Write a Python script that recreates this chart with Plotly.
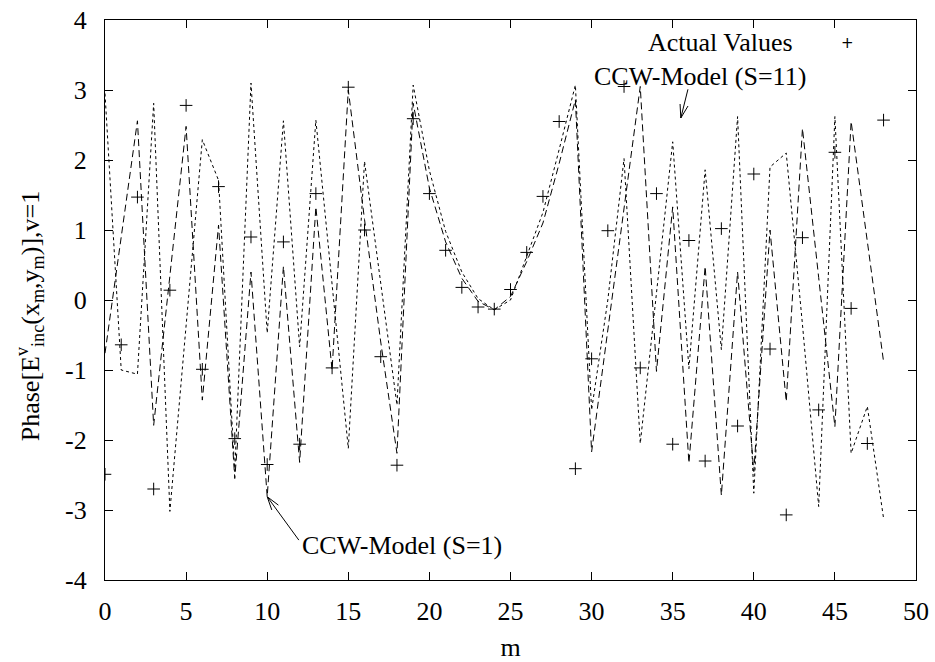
import math
import plotly.graph_objects as go

# ---- data ----
m_index = list(range(49))

actual_values = [-2.49, -0.64, 1.47, -2.70, 0.14, 2.78, -0.99, 1.62, -1.98, 0.90,
                 -2.35, 0.83, -2.06, 1.52, -0.97, 3.04, 1.00, -0.81, -2.36, 2.59,
                 1.52, 0.71, 0.18, -0.10, -0.13, 0.15, 0.68, 1.48, 2.55, -2.41,
                 -0.84, 0.99, 3.05, -0.97, 1.52, -2.06, 0.85, -2.30, 1.02, -1.80,
                 1.80, -0.70, -3.07, 0.89, -1.57, 2.11, -0.12, -2.05, 2.57]

model_s1 = [-0.76, 0.90, 2.56, -1.79, 0.30, 2.48, -1.43, 1.07, -2.55, 0.40,
            -2.81, 0.48, -2.32, 1.33, -1.00, 3.00, 1.15, -0.60, -2.19, 2.81,
            1.60, 0.83, 0.31, -0.02, -0.14, 0.05, 0.55, 1.10, 1.95, 2.86,
            -2.17, -0.45, 1.25, 3.05, -1.02, 1.33, -2.33, 0.48, -2.79, 0.40,
            -2.45, 1.00, -1.45, 2.45, 0.32, -1.81, 2.55, 0.83, -0.88]

model_s11 = [2.95, -1.00, -1.06, 2.81, -3.02, -0.36, 2.29, 1.71, -2.45, 3.10,
             -0.47, 2.56, -0.67, 2.57, 0.25, -2.12, 1.98, 0.24, -1.50, 3.07,
             1.85, 0.98, 0.40, 0.02, -0.14, 0.00, 0.62, 1.25, 2.15, 3.07,
             -1.57, 0.00, 2.02, -2.05, 0.10, 2.26, -0.98, 1.86, -0.71, 2.62,
             -2.76, 1.90, 2.10, -0.35, -2.95, 2.62, -2.19, -1.52, -3.12]

x_ticks = [0, 5, 10, 15, 20, 25, 30, 35, 40, 45, 50]
x_ticktext = ["0", "5", "10", "15", "20", "25", "30", "35", "40", "45", "50"]
y_ticks = [-4, -3, -2, -1, 0, 1, 2, 3, 4]
y_ticktext = ["-4", "-3", "-2", "-1", "0", "1", "2", "3", "4"]

FONT = "Liberation Serif, Times New Roman, serif"
TXT = dict(family=FONT, size=26, color="black")

W, H = 935, 662
ML, MR, MT, MB = 105, 19, 20, 82
X_RANGE = [0, 50]
Y_RANGE = [-4, 4]
PX_X = (W - ML - MR) / (X_RANGE[1] - X_RANGE[0])
PX_Y = (H - MT - MB) / (Y_RANGE[1] - Y_RANGE[0])

fig = go.Figure()

fig.add_trace(go.Scatter(
    x=m_index, y=actual_values, mode="markers", name="Actual Values",
    marker=dict(symbol="cross-thin", size=9, color="black",
                line=dict(width=1, color="black")),
))
fig.add_trace(go.Scatter(
    x=m_index, y=model_s1, mode="lines", name="CCW-Model (S=1)",
    line=dict(color="black", width=1, dash="7px,4px"),
))
fig.add_trace(go.Scatter(
    x=m_index, y=model_s11, mode="lines", name="CCW-Model (S=11)",
    line=dict(color="black", width=1, dash="3px,3px"),
))

axis_common = dict(
    showline=True, linecolor="black", linewidth=1.2, mirror="ticks",
    ticks="inside", ticklen=8, tickcolor="black", tickwidth=1,
    showgrid=False, zeroline=False, automargin=False,
    tickfont=TXT,
)

fig.update_xaxes(range=X_RANGE, tickvals=x_ticks, ticktext=x_ticktext,
                 ticklabelstandoff=8,
                 title=dict(text="m", standoff=12, font=TXT),
                 **axis_common)
fig.update_yaxes(range=Y_RANGE, tickvals=y_ticks, ticktext=y_ticktext,
                 ticklabelstandoff=12, **axis_common)


def open_arrow(x0, y0, x1, y1, head=14, spread=17):
    """Line from tail (x0,y0) to head (x1,y1) with an open V arrowhead."""
    shapes = [dict(type="line", xref="x", yref="y", x0=x0, y0=y0, x1=x1, y1=y1,
                   line=dict(color="black", width=1))]
    dx = (x0 - x1) * PX_X
    dy = (y0 - y1) * PX_Y
    ang = math.atan2(dy, dx)
    for s in (-1, 1):
        a = ang + s * math.radians(spread)
        hx = x1 + head * math.cos(a) / PX_X
        hy = y1 + head * math.sin(a) / PX_Y
        shapes.append(dict(type="line", xref="x", yref="y", x0=x1, y0=y1,
                           x1=hx, y1=hy, line=dict(color="black", width=1)))
    return shapes


shapes = []
shapes += open_arrow(35.94, 3.01, 35.5, 2.6)
shapes += open_arrow(11.95, -3.43, 10.0, -2.81)

annots = [
    # y-axis title
    dict(xref="paper", yref="paper", x=-0.093, y=0.472, textangle=-90,
         text="Phase[E<sup>v</sup><sub>inc</sub>(x<sub>m</sub>,y<sub>m</sub>)],v=1",
         showarrow=False, xanchor="center", yanchor="middle", font=TXT),
    # legend (gnuplot style: text then key)
    dict(xref="paper", yref="paper", x=0.851, y=0.959, text="Actual Values",
         showarrow=False, xanchor="right", yanchor="middle", font=TXT),
    dict(xref="paper", yref="paper", x=0.916, y=0.959, text="+",
         showarrow=False, xanchor="center", yanchor="middle",
         font=dict(family="DejaVu Sans", size=15, color="black")),
    # model labels
    dict(x=30.0, y=3.19, xref="x", yref="y", text="CCW-Model (S=11)",
         showarrow=False, xanchor="left", yanchor="middle", font=TXT),
    dict(x=12.05, y=-3.5, xref="x", yref="y", text="CCW-Model (S=1)",
         showarrow=False, xanchor="left", yanchor="middle", font=TXT),
]

fig.update_layout(
    width=W, height=H,
    margin=dict(l=ML, r=MR, t=MT, b=MB),
    paper_bgcolor="white", plot_bgcolor="white",
    showlegend=False,
    font=TXT,
    annotations=annots,
    shapes=shapes,
)

fig.write_html("out.html")
